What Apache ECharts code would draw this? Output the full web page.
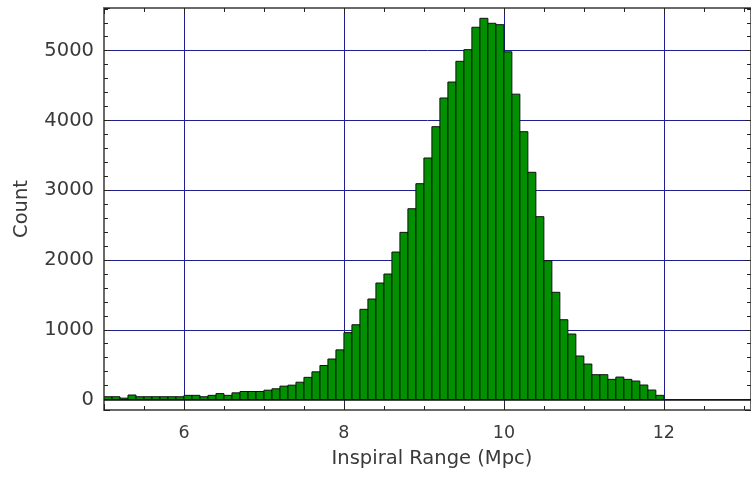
<!DOCTYPE html>
<html>
<head>
<meta charset="utf-8">
<script src="https://cdn.jsdelivr.net/npm/echarts@6/dist/echarts.min.js"></script>
<style>
html,body{margin:0;padding:0;background:#fff;}
#chart{width:751px;height:478px;}
</style>
</head>
<body>
<div id="chart"></div>
<script>
// Histogram bins (left edges, Mpc) and bin width
const binStarts = [
  5.0,5.1,5.2,5.3,5.4,5.5,5.6,5.7,5.8,5.9,
  6.0,6.1,6.2,6.3,6.4,6.5,6.6,6.7,6.8,6.9,
  7.0,7.1,7.2,7.3,7.4,7.5,7.6,7.7,7.8,7.9,
  8.0,8.1,8.2,8.3,8.4,8.5,8.6,8.7,8.8,8.9,
  9.0,9.1,9.2,9.3,9.4,9.5,9.6,9.7,9.8,9.9,
  10.0,10.1,10.2,10.3,10.4,10.5,10.6,10.7,10.8,10.9,
  11.0,11.1,11.2,11.3,11.4,11.5,11.6,11.7,11.8,11.9
];
const binWidth = 0.1;
const counts = [
  40,40,20,65,40,40,40,40,40,40,
  60,60,40,60,85,60,96,115,115,115,
  134,154,192,206,248,318,397,488,581,712,
  959,1072,1293,1441,1670,1799,2114,2396,2735,3094,
  3462,3911,4322,4551,4848,5015,5336,5464,5393,5373,
  4984,4377,3839,3257,2621,1990,1537,1144,939,624,
  509,356,356,289,322,289,265,208,136,60
];
const xLabel = 'Inspiral Range (Mpc)';
const yLabel = 'Count';
const xRange = [5, 13.09];
const yRange = [-150, 5612];

const data = binStarts.map((s, i) => [s, s + binWidth, counts[i]]);

const FONT = 'DejaVu Sans';
const TXT = '#3a3a3a';
const BOX = '#6a6a6a';
const GRID = '#1f1f8f';

const chart = echarts.init(document.getElementById('chart'), null, {renderer: 'canvas'});

const boxAxisCommon = {
  axisLine: {show: true, lineStyle: {color: BOX, width: 2}},
  axisTick: {show: true, inside: true, length: 6, lineStyle: {color: '#222', width: 1}},
  minorTick: {show: true, length: 4, lineStyle: {color: '#222', width: 1}},
  axisLabel: {show: false},
  splitLine: {show: false}
};

chart.setOption({
  animation: false,
  backgroundColor: '#fff',
  grid: {left: 104, right: 0, top: 8, bottom: 68, containLabel: false},
  xAxis: [
    {
      type: 'value', min: xRange[0], max: xRange[1], splitNumber: 4, position: 'bottom',
      name: xLabel, nameLocation: 'middle', nameGap: 39,
      nameTextStyle: {fontFamily: FONT, fontSize: 19.5, color: TXT, padding: [0, 0, 0, 9]},
      axisLine: {show: true, onZero: false, lineStyle: {color: BOX, width: 2}},
      axisTick: {show: true, inside: true, length: 6, lineStyle: {color: '#222', width: 1}},
      minorTick: {show: true, splitNumber: 4, length: 4, lineStyle: {color: '#222', width: 1}},
      axisLabel: {show: true, fontFamily: FONT, fontSize: 17.5, color: TXT, margin: 14, showMinLabel: false, showMaxLabel: false,
        formatter: v => String(v)},
      splitLine: {show: true, lineStyle: {color: GRID, width: 1}}
    },
    Object.assign({}, boxAxisCommon, {
      type: 'value', min: xRange[0], max: xRange[1], splitNumber: 4, position: 'top',
      axisLine: {show: true, onZero: false, lineStyle: {color: BOX, width: 2}},
      minorTick: {show: true, splitNumber: 4, length: 4, lineStyle: {color: '#222', width: 1}}
    })
  ],
  yAxis: [
    {
      type: 'value', min: yRange[0], max: yRange[1], splitNumber: 5, position: 'left',
      name: yLabel, nameLocation: 'middle', nameGap: 72,
      nameTextStyle: {fontFamily: FONT, fontSize: 19.5, color: TXT},
      axisLine: {show: true, onZero: false, lineStyle: {color: BOX, width: 2}},
      axisTick: {show: true, inside: true, length: 6, lineStyle: {color: '#222', width: 1}},
      minorTick: {show: true, splitNumber: 5, length: 4, lineStyle: {color: '#222', width: 1}},
      axisLabel: {show: true, fontFamily: FONT, fontSize: 19.5, color: TXT, margin: 10, showMinLabel: false, showMaxLabel: false,
        formatter: v => String(v)},
      splitLine: {show: true, lineStyle: {color: GRID, width: 1}}
    },
    Object.assign({}, boxAxisCommon, {
      type: 'value', min: yRange[0], max: yRange[1], splitNumber: 5, position: 'right',
      axisLine: {show: true, onZero: false, lineStyle: {color: BOX, width: 2}},
      minorTick: {show: true, splitNumber: 5, length: 4, lineStyle: {color: '#222', width: 1}}
    })
  ],
  series: [
    {
      type: 'custom',
      xAxisIndex: 0, yAxisIndex: 0,
      data: data,
      clip: true,
      renderItem: function (params, api) {
        const p0 = api.coord([api.value(0), api.value(2)]);
        const p1 = api.coord([api.value(1), 0]);
        return {
          type: 'rect',
          shape: {x: p0[0], y: p0[1], width: p1[0] - p0[0], height: p1[1] - p0[1]},
          style: {fill: '#009000', stroke: '#111', lineWidth: 1}
        };
      },
      markLine: {
        silent: true, symbol: 'none', label: {show: false},
        lineStyle: {color: '#111', width: 1.5, type: 'solid'},
        data: [{yAxis: 0}]
      },
      z: 3
    }
  ]
});
</script>
</body>
</html>
